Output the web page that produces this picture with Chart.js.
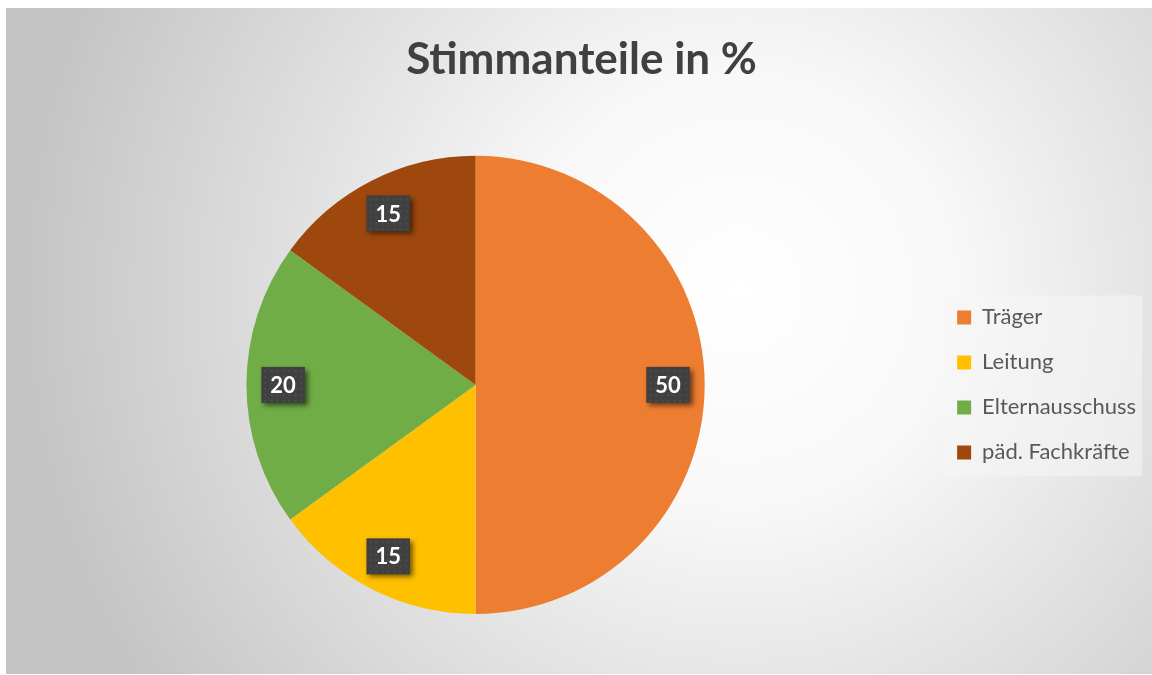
<!DOCTYPE html>
<html lang="de">
<head>
<meta charset="utf-8">
<title>Stimmanteile in %</title>
<script src="https://cdn.jsdelivr.net/npm/chart.js@4.4.1/dist/chart.umd.min.js"></script>
<style>
    html, body { margin: 0; padding: 0; background: #ffffff; }
    #wrap { position: relative; width: 1152px; height: 675px; }
</style>
</head>
<body>
<div id="wrap"><canvas id="stimmChart" width="1152" height="675"></canvas></div>
<script>
// Data
const categories = ['Träger', 'Leitung', 'Elternausschuss', 'päd. Fachkräfte'];
const shares = [50, 15, 20, 15];
const sliceColors = ['#ED7D31', '#FFC000', '#70AD47', '#9E480E'];
const chartTitle = 'Stimmanteile in %';

// Grey radial backdrop + legend panel
const backdropPlugin = {
    id: 'backdrop',
    beforeDraw(chart) {
        const ctx = chart.ctx;
        ctx.save();
        ctx.fillStyle = '#ffffff';
        ctx.fillRect(0, 0, chart.width, chart.height);
        const g = ctx.createRadialGradient(740, 290, 0, 740, 290, 720);
        g.addColorStop(0, '#ffffff');
        g.addColorStop(0.3, '#f8f8f8');
        g.addColorStop(1, '#c4c4c4');
        ctx.fillStyle = g;
        ctx.fillRect(6, 8, chart.width - 6, chart.height - 9);

        const boxes = chart.legend && chart.legend.legendHitBoxes;
        if (boxes && boxes.length) {
            const first = boxes[0];
            const last = boxes[boxes.length - 1];
            const x0 = first.left - 13;
            const y0 = first.top - 11;
            const y1 = last.top + last.height + 13;
            ctx.fillStyle = 'rgba(246,246,246,0.55)';
            ctx.fillRect(x0, y0, 198, y1 - y0);
        }
        ctx.restore();
    }
};

// Dark value boxes on the slices
const valueBoxPlugin = {
    id: 'valueBoxes',
    afterDatasetsDraw(chart) {
        const ctx = chart.ctx;
        const meta = chart.getDatasetMeta(0);
        ctx.save();
        ctx.font = 'bold 22px Lato';
        ctx.textAlign = 'center';
        ctx.textBaseline = 'middle';
        meta.data.forEach((arc, i) => {
            const p = arc.getProps(['x', 'y', 'startAngle', 'endAngle', 'outerRadius'], true);
            const mid = (p.startAngle + p.endAngle) / 2;
            const r = p.outerRadius * 0.84;
            const x = p.x + Math.cos(mid) * r;
            const y = p.y + Math.sin(mid) * r;
            const label = String(chart.data.datasets[0].data[i]);
            const w = ctx.measureText(label).width + 18;
            const h = 36;

            ctx.shadowColor = 'rgba(0,0,0,0.55)';
            ctx.shadowBlur = 5;
            ctx.shadowOffsetX = 3;
            ctx.shadowOffsetY = 3;
            ctx.fillStyle = '#404040';
            ctx.fillRect(x - w / 2, y - h / 2, w, h);
            ctx.shadowColor = 'transparent';

            // faint dotted texture
            ctx.fillStyle = 'rgba(255,255,255,0.07)';
            for (let dy = 3; dy < h; dy += 6) {
                for (let dx = 3; dx < w; dx += 6) {
                    ctx.fillRect(x - w / 2 + dx, y - h / 2 + dy, 2, 2);
                }
            }

            ctx.fillStyle = '#ffffff';
            ctx.fillText(label, x, y + 1);
        });
        ctx.restore();
    }
};

new Chart(document.getElementById('stimmChart'), {
    type: 'pie',
    data: {
        labels: categories,
        datasets: [{
            data: shares,
            backgroundColor: sliceColors,
            borderWidth: 0
        }]
    },
    options: {
        responsive: false,
        animation: false,
        layout: {
            padding: { top: 8, left: 17, right: 6, bottom: 61 }
        },
        plugins: {
            title: {
                display: true,
                text: chartTitle,
                color: '#404040',
                font: { family: 'Lato', size: 44, weight: 'bold' },
                padding: { top: 25, bottom: 70 }
            },
            legend: {
                position: 'right',
                fullSize: false,
                labels: {
                    boxWidth: 14,
                    boxHeight: 14,
                    padding: 23,
                    color: '#595959',
                    font: { family: 'Lato', size: 22 }
                }
            },
            tooltip: { enabled: false }
        }
    },
    plugins: [backdropPlugin, valueBoxPlugin]
});
</script>
</body>
</html>
